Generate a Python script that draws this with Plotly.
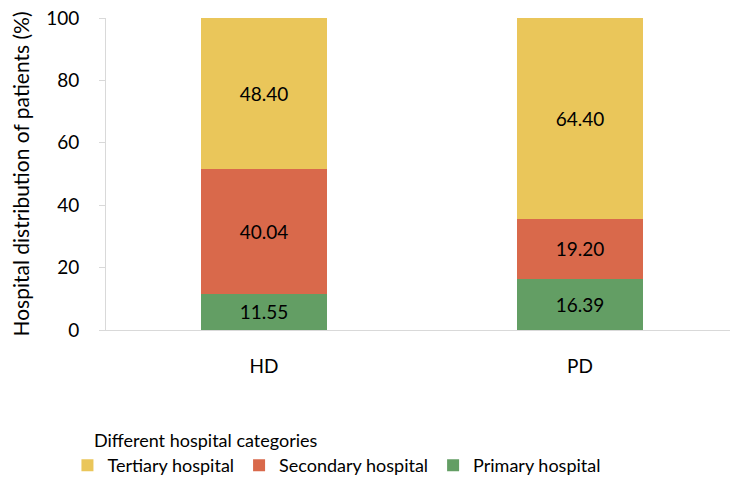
import plotly.graph_objects as go

categories = ["HD", "PD"]
primary = [11.55, 16.39]
secondary = [40.04, 19.20]
tertiary = [48.40, 64.40]
y_ticks = [0, 20, 40, 60, 80, 100]

FONT = "Lato, Calibri, sans-serif"

fig = go.Figure()
series = [
    ("Primary hospital", primary, "#639E64"),
    ("Secondary hospital", secondary, "#D9694B"),
    ("Tertiary hospital", tertiary, "#EAC65A"),
]
for name, vals, col in series:
    fig.add_trace(go.Bar(
        x=categories, y=vals, name=name, width=0.4,
        marker=dict(color=col, line=dict(width=0)),
        text=[f"{v:.2f}" for v in vals], textposition="inside",
        insidetextanchor="middle", textangle=0,
        textfont=dict(family=FONT, size=19, color="black"),
    ))

TOP = 10
PLOT_H = 322 - TOP
fig.update_layout(
    barmode="stack",
    width=730, height=473,
    margin=dict(l=98, r=0, t=TOP, b=151, autoexpand=False),
    paper_bgcolor="white", plot_bgcolor="white",
    font=dict(family=FONT, size=18, color="black"),
    xaxis=dict(range=[-0.5, 1.5], showline=True, linecolor="#d9d9d9", linewidth=1,
               ticks="", ticklabelstandoff=19, tickfont=dict(size=19), showgrid=False),
    yaxis=dict(range=[0, 100], tickvals=y_ticks, showline=True, linecolor="#d9d9d9",
               linewidth=1, ticks="outside", ticklen=6, tickcolor="#d9d9d9",
               ticklabelstandoff=16, ticklabeloverflow="allow", showgrid=False,
               zeroline=False,
               title=dict(text="Hospital distribution of patients (%)", standoff=35,
                          font=dict(size=21)),
               tickfont=dict(size=19)),
    legend=dict(orientation="h", x=-0.061, xanchor="left", y=-(439 - 322) / PLOT_H,
                yanchor="top", traceorder="reversed", font=dict(size=18)),
    showlegend=True,
    annotations=[dict(text="Different hospital categories", xref="paper", yref="paper",
                      x=(92 - 106) / 632, y=-(432 - 322) / PLOT_H, xanchor="left",
                      yanchor="middle", showarrow=False, font=dict(size=18))],
)

fig.write_html("out.html")
